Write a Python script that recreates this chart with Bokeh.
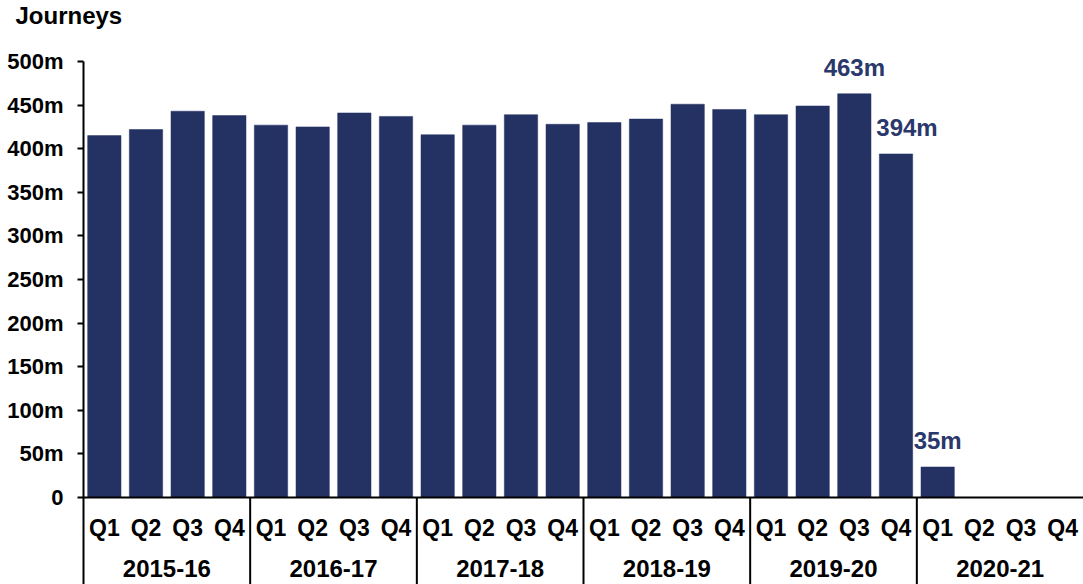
from bokeh.plotting import figure
from bokeh.models import (FactorRange, Range1d, FixedTicker, CustomJSTickFormatter,
                          Span, ColumnDataSource)
from bokeh.embed import file_html
from bokeh.resources import INLINE
from bokeh.core.properties import value

# ---- data ----
years = ["2015-16", "2016-17", "2017-18", "2018-19", "2019-20", "2020-21"]
quarters = ["Q1", "Q2", "Q3", "Q4"]
j_2015_16 = [415, 422, 443, 438]
j_2016_17 = [427, 425, 441, 437]
j_2017_18 = [416, 427, 439, 428]
j_2018_19 = [430, 434, 451, 445]
j_2019_20 = [439, 449, 463, 394]
j_2020_21 = [35, None, None, None]
labelled = [("2019-20", "Q3"), ("2019-20", "Q4"), ("2020-21", "Q1")]
y_ticks = [0, 50, 100, 150, 200, 250, 300, 350, 400, 450, 500]

series = [j_2015_16, j_2016_17, j_2017_18, j_2018_19, j_2019_20, j_2020_21]
factors = [(y, q) for y in years for q in quarters]
vals = [v for s in series for v in s]
lookup = dict(zip(factors, vals))
bar_x = [f for f, v in zip(factors, vals) if v is not None]
bar_top = [v for v in vals if v is not None]

# ---- layout ----
NAVY = "#243163"
FONT = value("Liberation Sans")
W, H = 1083, 584
LEFT = 83
TOP = 30
ZERO_Y = 497
PX_PER_M = 0.872
y_top = (ZERO_Y - TOP) / PX_PER_M
y_bot = -(H - ZERO_Y) / PX_PER_M

p = figure(width=W, height=H,
           x_range=FactorRange(*factors, factor_padding=0, group_padding=0, range_padding=0),
           y_range=Range1d(y_bot, y_top),
           output_backend="svg", toolbar_location=None, x_axis_location=None,
           min_border_left=LEFT, min_border_right=0, min_border_top=TOP, min_border_bottom=0)
p.outline_line_color = None
p.xgrid.visible = False
p.ygrid.visible = False
p.background_fill_color = "white"
p.border_fill_color = "white"

# title
p.title.text = "Journeys"
p.title.align = "left"
p.title.offset = -68
p.title.standoff = 0
p.title.vertical_align = "top"
p.title.text_font = "Liberation Sans"
p.title.text_font_style = "bold"
p.title.text_font_size = "24px"
p.title.text_color = "black"

p.vbar(x=bar_x, top=bar_top, width=0.8, fill_color=NAVY, line_color=NAVY, line_width=0.5)

# y axis
ax = p.yaxis[0]
ax.ticker = FixedTicker(ticks=y_ticks, minor_ticks=[])
ax.formatter = CustomJSTickFormatter(code="return tick == 0 ? '0' : tick + 'm';")
ax.bounds = (y_bot, max(y_ticks))
ax.axis_line_width = 2
ax.axis_line_color = "black"
ax.major_tick_out = 6
ax.major_tick_in = 0
ax.major_tick_line_width = 2
ax.minor_tick_out = 0
ax.minor_tick_in = 0
ax.major_label_standoff = 14
ax.major_label_text_font = "Liberation Sans"
ax.major_label_text_font_style = "bold"
ax.major_label_text_font_size = "22px"
ax.major_label_text_color = "black"

# baseline and year separators
p.add_layout(Span(location=0, dimension="width", line_color="black", line_width=2))
sep_x = [float(len(quarters) * i) for i in range(1, len(years))]
p.segment(x0=sep_x, y0=[y_bot] * len(sep_x), x1=sep_x, y1=[0] * len(sep_x),
          line_color="black", line_width=2)

# category labels
p.text(x=factors, y=[0] * len(factors), text=[f[1] for f in factors],
       text_font=FONT, text_font_style="bold", text_font_size="23px",
       text_align="center", text_baseline="middle", y_offset=30, text_color="black")
p.text(x=years, y=[0] * len(years), text=years,
       text_font=FONT, text_font_style="bold", text_font_size="24px",
       text_align="center", text_baseline="middle", y_offset=71, text_color="black")

# value labels
lab_src = ColumnDataSource(dict(
    x=labelled,
    y=[lookup[f] for f in labelled],
    t=[f"{lookup[f]}m" for f in labelled],
    dx=[0, 11, 0],
))
p.text(x="x", y="y", text="t", x_offset="dx", y_offset=-13, source=lab_src,
       text_font=FONT, text_font_style="bold", text_font_size="24px",
       text_align="center", text_baseline="bottom", text_color="#2b386b")

open("out.html", "w").write(file_html(p, INLINE))
